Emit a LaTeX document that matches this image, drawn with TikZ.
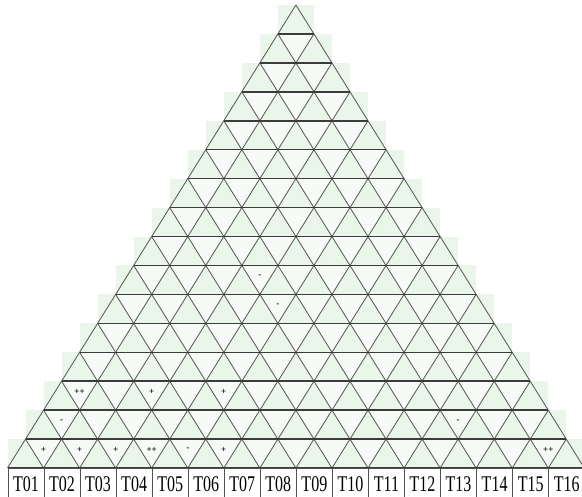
\documentclass[tikz,border=0pt]{standalone}
\usepackage{fontspec}
\setmainfont{Liberation Serif}
\usepackage{graphicx}
\definecolor{bandgreen}{RGB}{235,246,235}
\definecolor{downfill}{RGB}{247,251,247}
\definecolor{hline}{RGB}{60,60,60}
\definecolor{dline}{RGB}{90,90,90}
\definecolor{boxline}{RGB}{80,80,80}
\begin{document}
\begin{tikzpicture}[x=1pt,y=-1pt,
  hl/.style={draw=hline,line width=1.5pt},
  dl/.style={draw=dline,line width=0.85pt},
  tbox/.style={draw=boxline,line width=0.9pt,fill=white,minimum width=36.05pt,minimum height=32pt,inner sep=0pt,anchor=north west,font=\fontsize{16}{16}\selectfont},
  marksym/.style={inner sep=0pt,font=\fontsize{9}{9}\selectfont\bfseries}
]
\useasboundingbox (0,0) rectangle (582,497);
\clip (0,0) rectangle (582,497);
\def\L{7.5}\def\W{36.05}\def\Y{5}\def\H{28.94}\def\C{295.9}
% stepped background bands
\foreach \r in {1,...,16}{
  \pgfmathsetmacro\xa{\C-\r*\W/2}
  \pgfmathsetmacro\xb{\C+\r*\W/2}
  \pgfmathsetmacro\ya{\Y+(\r-1)*\H}
  \pgfmathsetmacro\yb{\Y+\r*\H}
  \fill[bandgreen] (\xa,\ya) rectangle (\xb,\yb);
}
% lighter downward triangles
\foreach \r in {2,...,16}{
  \pgfmathsetmacro\ya{\Y+(\r-1)*\H}
  \pgfmathsetmacro\yb{\Y+\r*\H}
  \pgfmathtruncatemacro\n{\r-1}
  \foreach \k in {1,...,\n}{
    \pgfmathsetmacro\xm{\C-\r*\W/2+\k*\W}
    \fill[downfill] (\xm-\W/2,\ya) -- (\xm+\W/2,\ya) -- (\xm,\yb) -- cycle;
  }
}
% diagonal lines
\foreach \k in {1,...,16}
  \draw[dl] (\L+\k*\W,\Y+16*\H) -- (\L+\k*\W/2,\Y+16*\H-\k*\H);
\foreach \k in {0,...,15}
  \draw[dl] (\L+\k*\W,\Y+16*\H) -- (\L+\k*\W+16*\W/2-\k*\W/2,\Y+\k*\H);
% horizontal lines
\foreach \r in {1,...,16}
  \draw[hl] (\C-\r*\W/2,\Y+\r*\H) -- (\C+\r*\W/2,\Y+\r*\H);
% marks
\foreach \r/\k/\s [count=\i] in {16/1/+,16/2/+,16/3/+,16/4/++,16/5/-,16/6/+,16/15/++,15/1/-,15/12/-,14/1/++,14/3/+,14/5/+,10/4/-,11/5/-}{
  \pgfmathsetmacro\xm{\C-\r*\W/2+\k*\W}
  \pgfmathsetmacro\ym{\Y+(\r-1)*\H+\H/3+1}
  \node[marksym] (m\i) at (\xm,\ym) {\s};
}
% boxes
\foreach \lab [count=\i] in {T01,T02,T03,T04,T05,T06,T07,T08,T09,T10,T11,T12,T13,T14,T15,T16}{
  \node[tbox] (t\i) at (\L+\i*\W-\W,\Y+16*\H) {\scalebox{1}[1.4]{\lab}};
}
\end{tikzpicture}
\end{document}
